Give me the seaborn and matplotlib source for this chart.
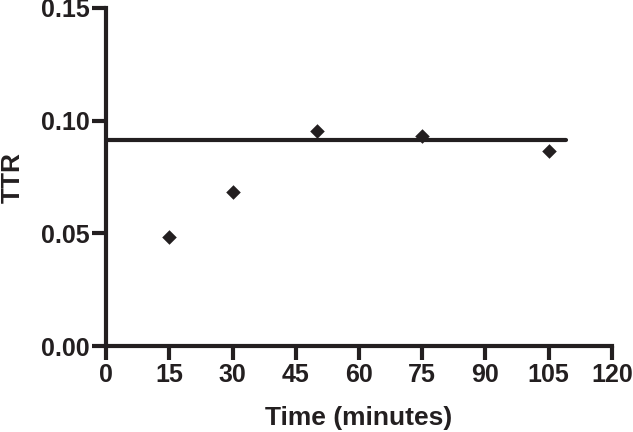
import matplotlib
matplotlib.use("Agg")
import matplotlib.pyplot as plt
import seaborn as sns
import pandas as pd

# Data
time_min = [15, 30, 50, 75, 105]
ttr = [0.0484, 0.0685, 0.0955, 0.0933, 0.0866]
plateau_x = [0, 109]
plateau_y = [0.0913, 0.0913]
x_ticks = [0, 15, 30, 45, 60, 75, 90, 105, 120]
y_ticks = [0.00, 0.05, 0.10, 0.15]
x_label = "Time (minutes)"
y_label = "TTR"

sns.set_theme(style="ticks")
plt.rcParams['font.family'] = ['Liberation Sans', 'DejaVu Sans']
ink = '#231f20'

pts = pd.DataFrame({"time": time_min, "ttr": ttr})
fit = pd.DataFrame({"time": plateau_x, "ttr": plateau_y})

fig = plt.figure(figsize=(6.33, 4.32), dpi=100)
ax = fig.add_axes([0.1675, 0.199, 0.9668 - 0.1675, 0.9815 - 0.199])

sns.lineplot(data=fit, x="time", y="ttr", ax=ax, color=ink, linewidth=3.0)
sns.scatterplot(data=pts, x="time", y="ttr", ax=ax, marker='D', s=55,
                color=ink, linewidth=0, zorder=3)

ax.set_xlim(0, 120)
ax.set_ylim(0, 0.15)
ax.set_xticks(x_ticks)
ax.set_yticks(y_ticks)
ax.set_xticklabels([str(v) for v in x_ticks])
ax.set_yticklabels([f"{v:.2f}" for v in y_ticks])

for side in ['top', 'right']:
    ax.spines[side].set_visible(False)
for side in ['left', 'bottom']:
    ax.spines[side].set_linewidth(3.0)
    ax.spines[side].set_color(ink)
    ax.spines[side].set_capstyle('projecting')

ax.tick_params(axis='both', direction='out', length=10, width=3.0, color=ink,
               labelsize=18, labelcolor=ink, pad=2)
for lab in ax.get_xticklabels() + ax.get_yticklabels():
    lab.set_fontweight('bold')

ax.set_xlabel(x_label, fontsize=19, fontweight='bold', color=ink)
ax.set_ylabel(y_label, fontsize=19, fontweight='bold', color=ink)
ax.xaxis.set_label_coords(0.5, -0.176)
ax.yaxis.set_label_coords(-0.160, 0.5)

fig.savefig("out.png", dpi=100)
